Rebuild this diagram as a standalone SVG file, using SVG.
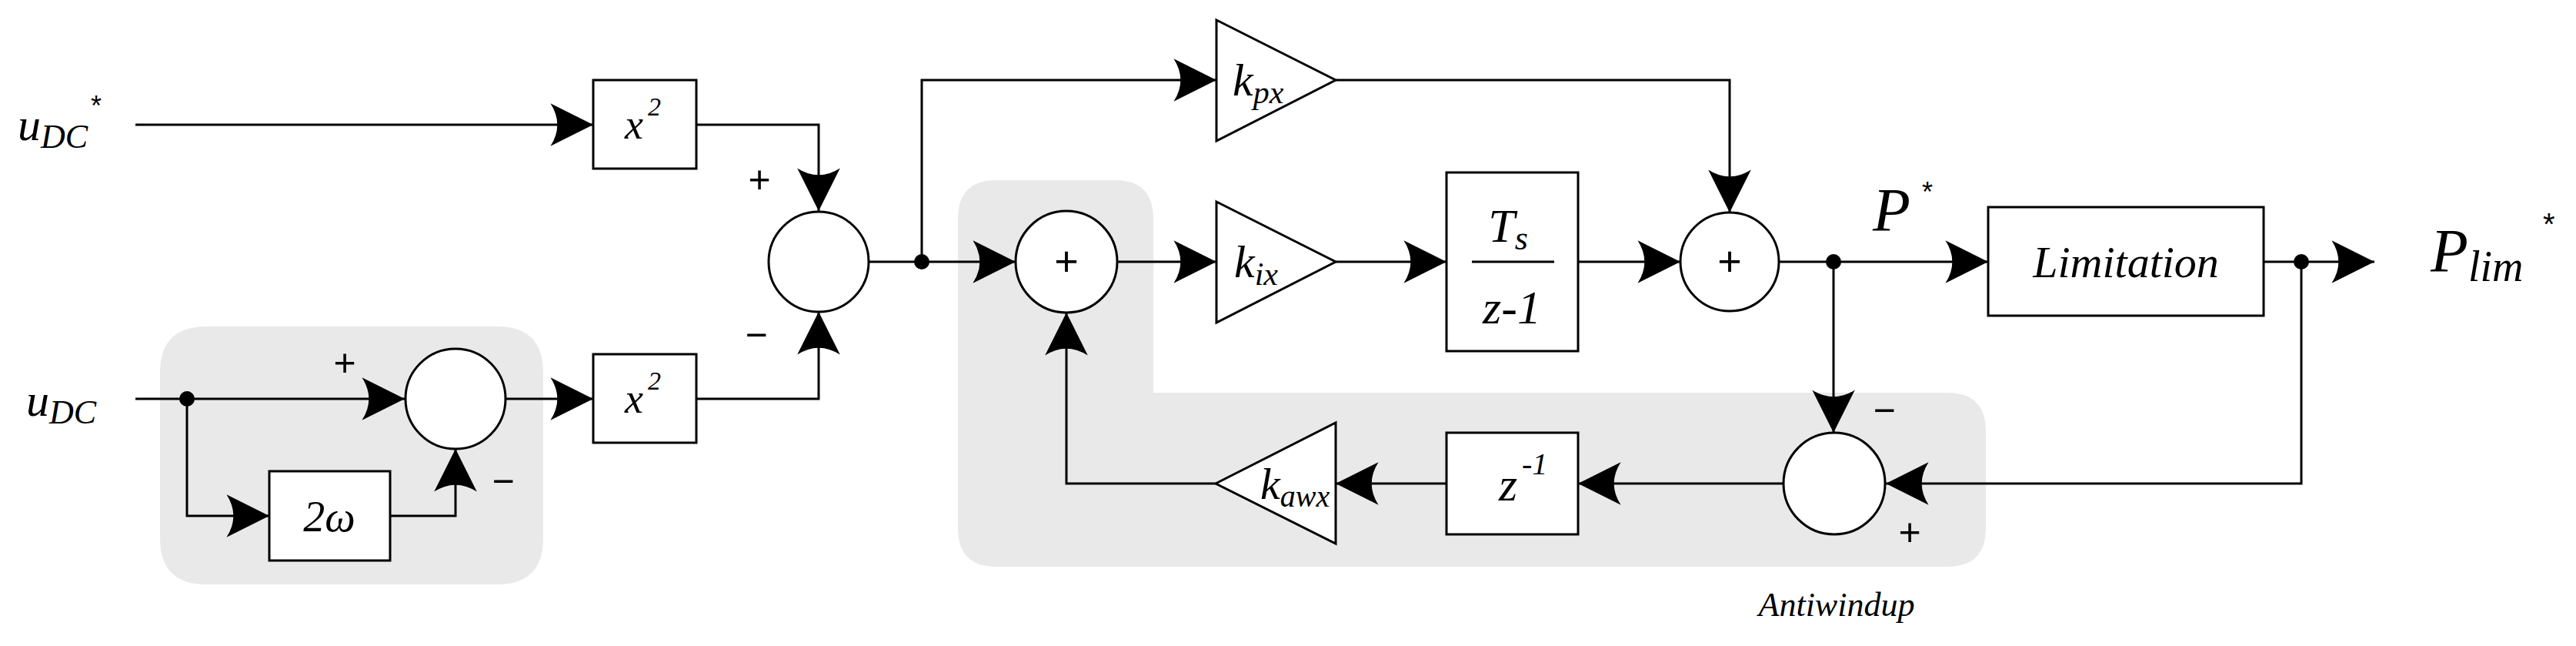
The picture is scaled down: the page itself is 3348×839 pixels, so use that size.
<svg xmlns="http://www.w3.org/2000/svg" width="3348" height="839" viewBox="0 0 3348 839">
<style>
.ln{fill:none;stroke:#000;stroke-width:3;marker-end:url(#ah)}
.bx{fill:#fff;stroke:#000;stroke-width:3}
.t{font-family:"Liberation Serif",serif;font-style:italic;fill:#000}
.s{font-family:"Liberation Sans",sans-serif;fill:#000}
.g{fill:#e9e9e9}
</style>
<defs>
<marker id="ah" markerUnits="userSpaceOnUse" markerWidth="60" markerHeight="60" viewBox="-52 -27 54 54" refX="0" refY="0" orient="auto">
<path d="M0,0 L-50,-25 Q-34,0 -50,25 Z" fill="#000"/>
</marker>
</defs>
<path class="g" d="M268,424 H646 Q706,424 706,484 V699 Q706,759 646,759 H268 Q208,759 208,699 V484 Q208,424 268,424 Z"/>
<path class="g" d="M1295,234 H1449 Q1499,234 1499,284 V510 H2531 Q2581,510 2581,560 V686 Q2581,736 2531,736 H1295 Q1245,736 1245,686 V284 Q1245,234 1295,234 Z"/>
<g id="connectors">
<path class="ln" d="M176,162 H771"/>
<path class="ln" d="M905,162 H1064 V274"/>
<path class="ln" d="M176,518 H526"/>
<path class="ln" d="M243,518 V670 H350"/>
<path class="ln" d="M507,670 H592 V583"/>
<path class="ln" d="M658,518 H771"/>
<path class="ln" d="M905,518 H1064 V405"/>
<path class="ln" d="M1129,340 H1320"/>
<path class="ln" d="M1198,340 V104 H1581"/>
<path class="ln" d="M1736,104 H2248 V276"/>
<path class="ln" d="M1452,340 H1581"/>
<path class="ln" d="M1736,340 H1880"/>
<path class="ln" d="M2051,340 H2184"/>
<path class="ln" d="M2312,340 H2584"/>
<path class="ln" d="M2383,340 V562"/>
<path class="ln" d="M2942,340 H3086"/>
<path class="ln" d="M2991,340 V628 H2451"/>
<path class="ln" d="M2318,628 H2051"/>
<path class="ln" d="M1880,628 H1736"/>
<path class="ln" d="M1580,628 H1386 V406"/>
<circle cx="243" cy="518" r="10"/>
<circle cx="1198" cy="340" r="10"/>
<circle cx="2383" cy="340" r="10"/>
<circle cx="2991" cy="340" r="10"/>
</g>
<g id="in1"><text class="t" x="23" y="182" font-size="60">u<tspan font-size="44" dy="10">DC</tspan></text><text class="s" x="118" y="150" font-size="36">*</text></g>
<g id="in2"><text class="t" x="34" y="540" font-size="60">u<tspan font-size="44" dy="10">DC</tspan></text></g>
<g id="sq1"><rect class="bx" x="771" y="104" width="134" height="115"/><text class="t" x="812" y="180" font-size="54">x</text><text class="t" x="842" y="150" font-size="34">2</text></g>
<g id="sq2"><rect class="bx" x="771" y="460" width="134" height="115"/><text class="t" x="812" y="536" font-size="54">x</text><text class="t" x="842" y="506" font-size="34">2</text></g>
<g id="sum1"><circle class="bx" cx="1064" cy="340" r="65"/><text class="s" x="987" y="250" font-size="50" text-anchor="middle">+</text><text class="s" x="983" y="452" font-size="50" text-anchor="middle">−</text></g>
<g id="sum2"><circle class="bx" cx="592" cy="518" r="65"/><text class="s" x="448" y="488" font-size="50" text-anchor="middle">+</text><text class="s" x="654" y="642" font-size="50" text-anchor="middle">−</text></g>
<g id="w2"><rect class="bx" x="350" y="612" width="157" height="116"/><text class="t" x="428" y="690" font-size="56" text-anchor="middle">2ω</text></g>
<g id="sum3"><circle class="bx" cx="1386" cy="340" r="66"/><text class="s" x="1386" y="358" font-size="54" text-anchor="middle">+</text></g>
<g id="kpx"><polygon class="bx" points="1581,26 1736,104 1581,183"/><text class="t" x="1602" y="124" font-size="60">k<tspan font-size="42" dy="10">px</tspan></text></g>
<g id="kix"><polygon class="bx" points="1581,262 1736,340 1581,419"/><text class="t" x="1604" y="360" font-size="60">k<tspan font-size="42" dy="10">ix</tspan></text></g>
<g id="int"><rect class="bx" x="1880" y="224" width="171" height="232"/><line x1="1913" y1="340" x2="2020" y2="340" stroke="#000" stroke-width="3"/><text class="t" x="1960" y="314" font-size="62" text-anchor="middle">T<tspan font-size="44" dy="10">s</tspan></text><text class="t" x="1965" y="420" font-size="62" text-anchor="middle">z-1</text></g>
<g id="sum4"><circle class="bx" cx="2248" cy="340" r="64"/><text class="s" x="2248" y="358" font-size="54" text-anchor="middle">+</text></g>
<g id="P"><text class="t" x="2434" y="300" font-size="80">P</text><text class="s" x="2498" y="262" font-size="36">*</text></g>
<g id="lim"><rect class="bx" x="2584" y="269" width="358" height="141"/><text class="t" x="2763" y="360" font-size="58" text-anchor="middle">Limitation</text></g>
<g id="Plim"><text class="t" x="3159" y="353" font-size="80">P<tspan font-size="56" dy="12">lim</tspan></text><text class="s" x="3305" y="305" font-size="40">*</text></g>
<g id="sum5"><circle class="bx" cx="2384" cy="628" r="66"/><text class="s" x="2449" y="550" font-size="50" text-anchor="middle">−</text><text class="s" x="2482" y="708" font-size="50" text-anchor="middle">+</text></g>
<g id="zinv"><rect class="bx" x="1880" y="562" width="171" height="132"/><text class="t" x="1948" y="650" font-size="62">z</text><text class="t" x="1978" y="616" font-size="40">-1</text></g>
<g id="kawx"><polygon class="bx" points="1580,628 1736,549 1736,706"/><text class="t" x="1638" y="648" font-size="58">k<tspan font-size="40" dy="10">awx</tspan></text></g>
<g id="aw"><text class="t" x="2387" y="800" font-size="44" text-anchor="middle">Antiwindup</text></g>
</svg>
